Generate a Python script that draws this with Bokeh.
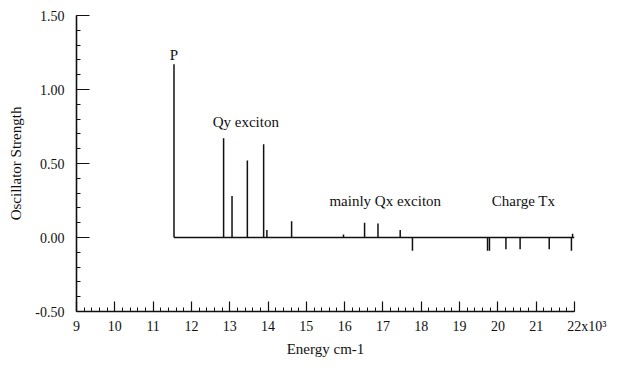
import numpy as np
from bokeh.plotting import figure
from bokeh.models import FixedTicker, NumeralTickFormatter, ColumnDataSource, Range1d
from bokeh.embed import file_html
from bokeh.resources import INLINE
from bokeh.core.properties import value

# ---- data (energies in 10^3 cm-1, oscillator strengths) ----
energy = [11.545, 12.84, 13.06, 13.46, 13.885, 13.97, 14.615, 15.97, 16.52, 16.87,
          17.45, 17.77, 19.73, 19.78, 20.21, 20.58, 21.34, 21.92, 21.95]
strength = [1.17, 0.67, 0.28, 0.52, 0.63, 0.05, 0.11, 0.02, 0.10, 0.095,
            0.05, -0.09, -0.09, -0.09, -0.08, -0.08, -0.08, -0.09, 0.025]
baseline_end = 22.0

x_ticks = [9, 10, 11, 12, 13, 14, 15, 16, 17, 18, 19, 20, 21, 22]
x_last_label = "22x10³"
y_ticks = [-0.5, 0.0, 0.5, 1.0, 1.5]

ann_text = ["P", "Qy exciton", "mainly Qx exciton", "Charge Tx"]
ann_x = [11.54, 13.42, 17.06, 20.67]
ann_y = [1.235, 0.78, 0.245, 0.245]

FONT = "Liberation Serif"
INK = "#111111"

p = figure(width=608, height=359, x_range=Range1d(9, 22), y_range=Range1d(-0.5, 1.5),
           output_backend="svg", toolbar_location=None,
           min_border_left=76, min_border_right=34, min_border_top=15, min_border_bottom=44)
p.outline_line_color = None
p.xgrid.visible = False
p.ygrid.visible = False
p.background_fill_color = "white"
p.border_fill_color = "white"

src = ColumnDataSource(dict(e=energy, f=strength, z=[0] * len(energy)))
# baseline
p.segment(x0=[min(energy)], y0=[0], x1=[baseline_end], y1=[0], line_color=INK, line_width=1.5)
# sticks
p.segment(x0="e", y0="z", x1="e", y1="f", source=src, line_color=INK, line_width=1.5)

# annotations
asrc = ColumnDataSource(dict(x=ann_x, y=ann_y, t=ann_text))
p.text(x="x", y="y", text="t", source=asrc, text_font=value(FONT), text_font_size="15px",
       text_align="center", text_baseline="alphabetic", text_color=INK)

# axes
for ax in (p.xaxis[0], p.yaxis[0]):
    ax.axis_line_color = INK
    ax.axis_line_width = 1.6
    ax.major_tick_line_color = INK
    ax.minor_tick_line_color = INK
    ax.major_tick_line_width = 1.2
    ax.minor_tick_line_width = 1
    ax.major_tick_out = 0
    ax.minor_tick_out = 0
    ax.minor_tick_in = 4
    ax.major_label_text_font = FONT
    ax.major_label_text_font_size = "14px"
    ax.major_label_text_color = INK
    ax.axis_label_text_font = FONT
    ax.axis_label_text_font_size = "15px"
    ax.axis_label_text_font_style = "normal"
    ax.axis_label_text_color = INK

xa = p.xaxis[0]
xa.ticker = FixedTicker(ticks=x_ticks, minor_ticks=list(np.round(np.arange(9, 22.01, 0.2), 2)))
xa.major_tick_in = 10
xa.major_label_standoff = 7
# pad with non-breaking spaces so that "22" stays centred on its tick
xa.major_label_overrides = {x_ticks[-1]: "\u00a0" * 7 + x_last_label}
xa.axis_label = "Energy cm-1"
xa.axis_label_standoff = 4

ya = p.yaxis[0]
ya.ticker = FixedTicker(ticks=y_ticks, minor_ticks=list(np.round(np.arange(-0.5, 1.51, 0.1), 2)))
ya.formatter = NumeralTickFormatter(format="0.00")
ya.major_tick_in = 13
ya.major_label_standoff = 12
ya.axis_label = "Oscillator Strength"
ya.axis_label_standoff = 8

open("out.html", "w").write(file_html(p, INLINE))
